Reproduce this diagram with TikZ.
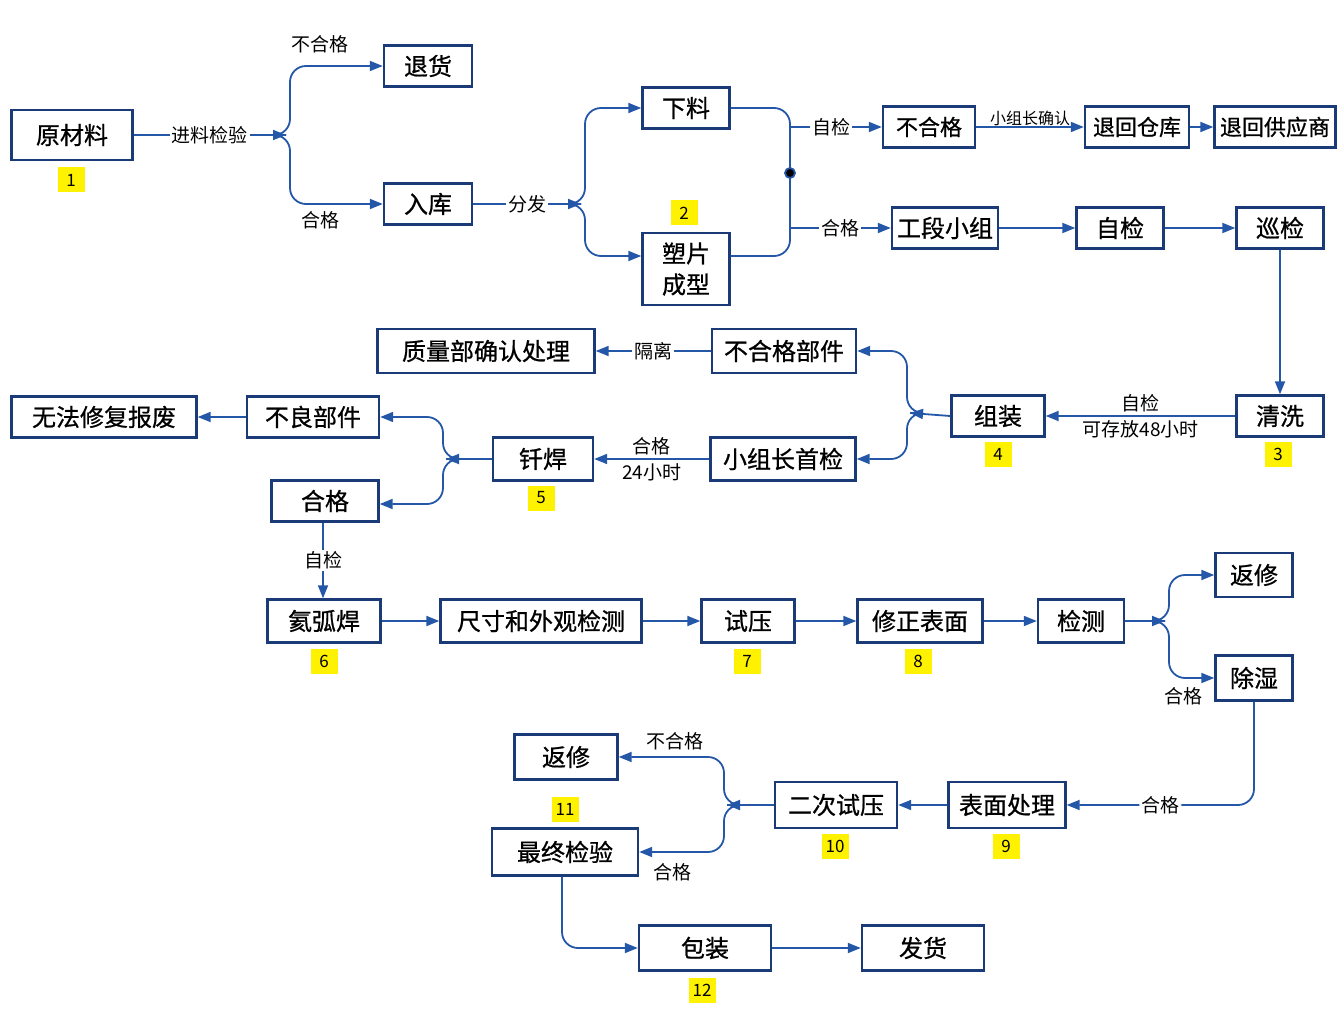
\documentclass[tikz,border=0pt]{standalone}
\usepackage{fontspec}
\setmainfont{Noto Sans CJK SC}[AutoFakeBold=0.8]
\usetikzlibrary{arrows.meta}
\definecolor{bx}{HTML}{1B3A78}
\definecolor{ln}{HTML}{2457A8}
\definecolor{yl}{HTML}{FFF200}
\begin{document}
\begin{tikzpicture}[x=1pt,y=-1pt,
 box/.style={draw=bx,line width=2.4pt,minimum height=41pt,inner sep=0pt,font=\fontsize{24}{28}\selectfont\bfseries,align=center},
 num/.style={fill=yl,minimum width=27pt,minimum height=25pt,inner sep=0pt,font=\fontsize{17}{19}\selectfont},
 lab/.style={fill=white,inner sep=2pt,font=\fontsize{19}{22}\selectfont},
 tl/.style={font=\fontsize{19}{22}\selectfont},
 arr/.style={draw=ln,line width=1.8pt,-{Triangle[length=13pt,width=10pt]}},
 ln/.style={draw=ln,line width=1.8pt},
 rc/.style={rounded corners=16pt}]
\useasboundingbox (0,0) rectangle (1344,1024);
% nodes
\node[box,minimum width=121pt,minimum height=50pt] (ycl) at (72,135) {原材料};
\node[num] (n1) at (71,180) {1};
\node[box,minimum width=88pt] (th) at (428,66) {退货};
\node[box,minimum width=88pt] (rk) at (428,204) {入库};
\node[box,minimum width=87pt] (xl) at (686,108) {下料};
\node[box,minimum width=87pt,minimum height=72pt,font=\fontsize{24}{31}\selectfont\bfseries] (sp) at (686,269) {塑片\\成型};
\node[num] (n2) at (684,213) {2};
\node[box,minimum width=92pt,font=\fontsize{22}{26}\selectfont\bfseries] (bhg) at (929,127) {不合格};
\node[box,minimum width=104pt,font=\fontsize{22}{26}\selectfont\bfseries] (thck) at (1137,127) {退回仓库};
\node[box,minimum width=121pt,font=\fontsize{22}{26}\selectfont\bfseries] (thgys) at (1275,127) {退回供应商};
\node[box,minimum width=106pt] (gdxz) at (945,228) {工段小组};
\node[box,minimum width=87pt] (zj) at (1120,228) {自检};
\node[box,minimum width=87pt] (xj) at (1280,228) {巡检};
\node[box,minimum width=87pt] (qx) at (1280,416) {清洗};
\node[num] (n3) at (1278,454) {3};
\node[box,minimum width=93pt] (zz) at (998,416) {组装};
\node[num] (n4) at (998,454) {4};
\node[box,minimum width=144pt,minimum height=44pt] (bhgbj) at (784,351) {不合格部件};
\node[box,minimum width=217pt,minimum height=44pt] (zlb) at (486,351) {质量部确认处理};
\node[box,minimum width=145pt,minimum height=43pt] (xzz) at (783,459) {小组长首检};
\node[box,minimum width=100pt,minimum height=43pt] (qh) at (543,459) {钎焊};
\node[num] (n5) at (541,498) {5};
\node[box,minimum width=132pt] (blbj) at (313,417) {不良部件};
\node[box,minimum width=185pt] (wf) at (104,417) {无法修复报废};
\node[box,minimum width=107pt] (hg) at (325,501) {合格};
\node[box,minimum width=113pt,minimum height=43pt] (hhh) at (324,621) {氦弧焊};
\node[num] (n6) at (324,661) {6};
\node[box,minimum width=201pt,minimum height=43pt] (cc) at (541,621) {尺寸和外观检测};
\node[box,minimum width=93pt,minimum height=43pt] (sy) at (748,621) {试压};
\node[num] (n7) at (747,661) {7};
\node[box,minimum width=125pt,minimum height=43pt] (xzbm) at (920,621) {修正表面};
\node[num] (n8) at (918,661) {8};
\node[box,minimum width=86pt,minimum height=43pt] (jc) at (1081,621) {检测};
\node[box,minimum width=77pt,minimum height=44pt] (fx1) at (1254,575) {返修};
\node[box,minimum width=77pt,minimum height=45pt] (cs) at (1254,678) {除湿};
\node[box,minimum width=117pt,minimum height=46pt] (bmcl) at (1007,805) {表面处理};
\node[num] (n9) at (1006,846) {9};
\node[box,minimum width=122pt,minimum height=46pt] (ecsy) at (836,805) {二次试压};
\node[num] (n10) at (835,846) {10};
\node[box,minimum width=103pt,minimum height=45pt] (fx2) at (566,757) {返修};
\node[num] (n11) at (565,809) {11};
\node[box,minimum width=146pt,minimum height=47pt] (zzjy) at (565,852) {最终检验};
\node[box,minimum width=132pt,minimum height=45pt] (bz) at (705,948) {包装};
\node[num] (n12) at (702,990) {12};
\node[box,minimum width=122pt,minimum height=45pt] (fh) at (923,948) {发货};
% junctions
\coordinate (j1) at (286,135);
\coordinate (j2) at (581,204);
\coordinate (j3) at (910,413);
\coordinate (j4) at (446,459);
\coordinate (j5) at (1165,621);
\coordinate (j6) at (727,805);
% connectors
\draw[arr] (ycl.east) -- node[lab]{进料检验} (j1);
\draw[arr,rc] (j1) -- ++(4,0) |- (th.west);
\draw[arr,rc] (j1) -- ++(4,0) |- (rk.west);
\node[lab] at (320,44) {不合格};
\node[lab] at (320,220) {合格};
\draw[arr] (rk.east) -- node[lab]{分发} (j2);
\draw[arr,rc] (j2) -- ++(4,0) |- (xl.west);
\draw[arr,rc] (j2) -- ++(4,0) |- ([yshift=13pt]sp.west);
\coordinate (r1) at (790,127);
\coordinate (r2) at (790,228);
\draw[ln,rc] (xl.east) -| (790,200) |- ([yshift=13pt]sp.east);
\fill[ln] (790,173) circle (5pt);
\draw[arr] (r1) -- node[lab,pos=0.45]{自检} (bhg.west);
\draw[arr] (r2) -- node[lab,pos=0.5]{合格} (gdxz.west);
\draw[arr] (bhg.east) -- node[above=-3pt,font=\fontsize{16}{18}\selectfont]{小组长确认} (thck.west);
\draw[arr] (thck.east) -- (thgys.west);
\draw[arr] (gdxz.east) -- (zj.west);
\draw[arr] (zj.east) -- (xj.west);
\draw[arr] (xj.south) -- (qx.north);
\draw[arr] (qx.west) -- node[above,tl]{自检} node[below,tl]{可存放48小时} (zz.east);
\draw[arr] (zz.west) -- (j3);
\draw[arr,rc] (j3) -- ++(-3,0) |- (bhgbj.east);
\draw[arr,rc] (j3) -- ++(-3,0) |- (xzz.east);
\draw[arr] (bhgbj.west) -- node[lab]{隔离} (zlb.east);
\draw[arr] (xzz.west) -- node[above,tl]{合格} node[below,tl]{24小时} (qh.east);
\draw[arr] (qh.west) -- (j4);
\draw[arr,rc] (j4) -- ++(-3,0) |- (blbj.east);
\draw[arr,rc] (j4) -- ++(-3,0) |- ([yshift=-3pt]hg.east);
\draw[arr] (blbj.west) -- (wf.east);
\draw[arr] (hg.south -| 323,0) -- node[lab]{自检} (hhh.north -| 323,0);
\draw[arr] (hhh.east) -- (cc.west);
\draw[arr] (cc.east) -- (sy.west);
\draw[arr] (sy.east) -- (xzbm.west);
\draw[arr] (xzbm.east) -- (jc.west);
\draw[arr] (jc.east) -- (j5);
\draw[arr,rc] (j5) -- ++(4,0) |- (fx1.west);
\draw[arr,rc] (j5) -- ++(4,0) |- (cs.west);
\node[lab] at (1183,696) {合格};
\draw[arr,rc] (cs.south) |- node[lab,pos=0.75]{合格} (bmcl.east);
\draw[arr] (bmcl.west) -- (ecsy.east);
\draw[arr] (ecsy.west) -- (j6);
\draw[arr,rc] (j6) -- ++(-3,0) |- (fx2.east);
\draw[arr,rc] (j6) -- ++(-3,0) |- (zzjy.east);
\node[lab] at (675,741) {不合格};
\node[lab] at (672,872) {合格};
\draw[arr,rc] (zzjy.south -| 562,0) |- (bz.west);
\draw[arr] (bz.east) -- (fh.west);
\end{tikzpicture}
\end{document}
